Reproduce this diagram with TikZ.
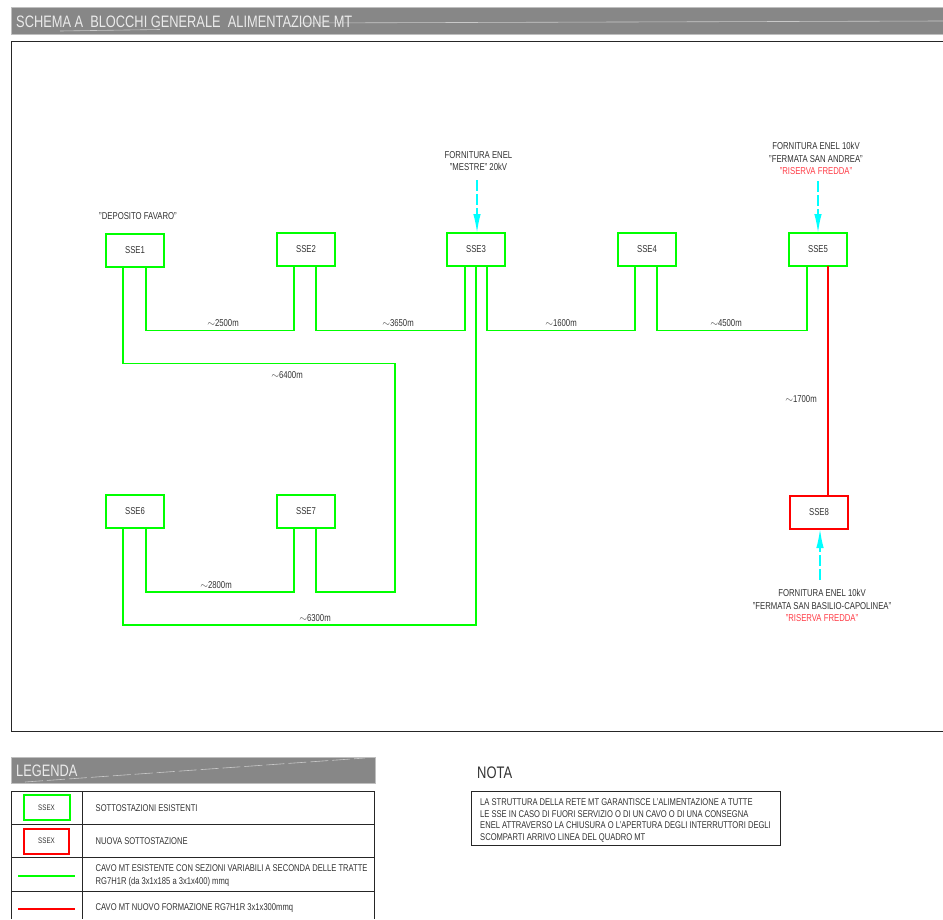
\documentclass[tikz,border=0pt]{standalone}
\usepackage{fontspec}
\setmainfont[FakeStretch=0.775]{Liberation Sans}
\usetikzlibrary{arrows.meta}
\definecolor{gr}{RGB}{0,255,0}
\definecolor{rd}{RGB}{255,0,0}
\definecolor{cy}{RGB}{0,255,255}
\definecolor{bar}{RGB}{135,135,135}
\definecolor{tx}{RGB}{50,50,50}
\definecolor{rtx}{RGB}{255,60,70}
\tikzset{
 sse/.style={draw=gr,line width=2pt,minimum width=58pt,minimum height=33pt,inner sep=0pt,outer sep=0pt,font=\fontsize{10}{12}\selectfont,text=tx},
 ssn/.style={sse,draw=rd},
 wire/.style={draw=gr,line width=1.5pt},
 wirer/.style={draw=rd,line width=1.6pt},
 feed/.style={draw=cy,line width=1.6pt,dash pattern=on 11pt off 3pt,-{Latex[length=19pt,width=7.5pt]}},
 lab/.style={font=\fontsize{10}{12.7}\selectfont,text=tx,align=center,inner sep=0pt},
 leg/.style={font=\fontsize{9.8}{12.5}\selectfont,text=tx,align=left,anchor=west,inner sep=0pt},
 streak/.style={draw=white!55!bar,line width=.6pt},
 frameb/.style={draw=black!85,line width=1pt},
}
\begin{document}
\begin{tikzpicture}[x=1pt,y=-1pt]
\useasboundingbox (0,0) rectangle (943,919);
% title bar
\fill[bar,draw=black!25,line width=.6pt] (11,7) rectangle (943,34);
\draw[streak] (60,31) -- (160,29.5);
\draw[streak] (300,23) -- (943,21);
\node[anchor=west,inner sep=0pt,text=white!92!black,font=\fontsize{16.55}{20}\selectfont] (title) at (16,22) {SCHEMA A\ \ BLOCCHI GENERALE\ \ ALIMENTAZIONE MT};
% frame
\draw[frameb] (943,41) -- (11,41) -- (11,731) -- (943,731);
% substations
\node[sse] (sse1) at (135,250) {SSE1};
\node[sse] (sse2) at (306,249.5) {SSE2};
\node[sse] (sse3) at (476,249.5) {SSE3};
\node[sse] (sse4) at (647,249.5) {SSE4};
\node[sse] (sse5) at (818,249.5) {SSE5};
\node[sse] (sse6) at (135,511) {SSE6};
\node[sse] (sse7) at (306,511) {SSE7};
\node[ssn] (sse8) at (819,512.5) {SSE8};
% wires
\draw[wire] ([xshift=11pt]sse1.south) -- ++(0,64) -| ([xshift=-12pt]sse2.south);
\draw[wire] ([xshift=10pt]sse2.south) -- ++(0,64.5) -| ([xshift=-11pt]sse3.south);
\draw[wire] ([xshift=11pt]sse3.south) -- ++(0,64.5) -| ([xshift=-12pt]sse4.south);
\draw[wire] ([xshift=10pt]sse4.south) -- ++(0,64.5) -| ([xshift=-11pt]sse5.south);
\draw[wire,line width=1.3pt] ([xshift=-12pt]sse1.south) -- ++(0,97) -| (395,592) -| ([xshift=10pt]sse7.south);
\draw[wire] ([xshift=11pt]sse6.south) -- ++(0,64.5) -| ([xshift=-12pt]sse7.south);
\draw[wire,line width=1.3pt] ([xshift=-12pt]sse6.south) -- ++(0,97.5) -| (sse3.south);
\draw[wirer] ([xshift=10pt]sse5.south) -- ([xshift=9pt]sse8.north);
% distance labels
\node[lab] (d1) at (223,323) {$\sim$2500m};
\node[lab] (d2) at (398,323) {$\sim$3650m};
\node[lab] (d3) at (561,323) {$\sim$1600m};
\node[lab] (d4) at (726,323) {$\sim$4500m};
\node[lab] (d5) at (287,375) {$\sim$6400m};
\node[lab] (d6) at (801,399) {$\sim$1700m};
\node[lab] (d7) at (216,585) {$\sim$2800m};
\node[lab] (d8) at (315,618) {$\sim$6300m};
% feeds
\coordinate (f3) at (477,180);
\coordinate (f5) at (818,181);
\coordinate (f8) at (820,580);
\draw[feed] (f3) -- (f3 |- sse3.north);
\draw[feed] (f5) -- (f5 |- sse5.north);
\draw[feed] (f8) -- (f8 |- sse8.south);
% labels
\node[lab] (t1) at (138,216) {"DEPOSITO FAVARO"};
\node[lab] (t3) at (478.5,161) {FORNITURA ENEL\\"MESTRE" 20kV};
\node[lab] (t5) at (816,158.5) {FORNITURA ENEL 10kV\\"FERMATA SAN ANDREA"\\\textcolor{rtx}{"RISERVA FREDDA"}};
\node[lab] (t8) at (822,605.5) {FORNITURA ENEL 10kV\\"FERMATA SAN BASILIO-CAPOLINEA"\\\textcolor{rtx}{"RISERVA FREDDA"}};
% legend bar
\fill[bar,draw=black!25,line width=.6pt] (11,757) rectangle (375,783);
\draw[streak,dash pattern=on 18pt off 4pt] (25,782) -- (365,758);
\node[anchor=west,inner sep=0pt,text=white!92!black,font=\fontsize{16.55}{20}\selectfont] (legt) at (16,771) {LEGENDA};
% legend table
\draw[frameb] (11,919) -- (11,791) -- (374,791) -- (374,919);
\draw[frameb] (11,824) -- (374,824) (11,857.5) -- (374,857.5) (11,891) -- (374,891);
\draw[frameb] (82,791) -- (82,919);
\node[sse,minimum width=46pt,minimum height=25pt,font=\fontsize{8}{10}\selectfont] (kg) at (46.5,807.5) {SSEX};
\node[ssn,minimum width=45pt,minimum height=25pt,font=\fontsize{8}{10}\selectfont] (kr) at (46.5,841) {SSEX};
\coordinate (l1a) at (18,876); \coordinate (l1b) at (75,876);
\coordinate (l2a) at (18,909); \coordinate (l2b) at (75,909);
\draw[wire] (l1a) -- (l1b);
\draw[wirer] (l2a) -- (l2b);
\node[leg] (e1) at (95.5,808) {SOTTOSTAZIONI ESISTENTI};
\node[leg] (e2) at (95.5,841.5) {NUOVA SOTTOSTAZIONE};
\node[leg] (e3) at (95.5,875.5) {CAVO MT ESISTENTE CON SEZIONI VARIABILI A SECONDA DELLE TRATTE\\RG7H1R (da 3x1x185 a 3x1x400) mmq};
\node[leg] (e4) at (95.5,908.5) {CAVO MT NUOVO FORMAZIONE RG7H1R 3x1x300mmq};
% note
\node[anchor=west,inner sep=0pt,text=tx,font=\fontsize{16.7}{20}\selectfont] (nota) at (477,773) {NOTA};
\draw[frameb] (471,791) rectangle (780,845.5);
\node[leg,font=\fontsize{9.8}{11.4}\selectfont] (ntxt) at (480,820.5) {LA STRUTTURA DELLA RETE MT GARANTISCE L'ALIMENTAZIONE A TUTTE\\LE SSE IN CASO DI FUORI SERVIZIO O DI UN CAVO O DI UNA CONSEGNA\\ENEL ATTRAVERSO LA CHIUSURA O L'APERTURA DEGLI INTERRUTTORI DEGLI\\SCOMPARTI ARRIVO LINEA DEL QUADRO MT};
\end{tikzpicture}
\end{document}
